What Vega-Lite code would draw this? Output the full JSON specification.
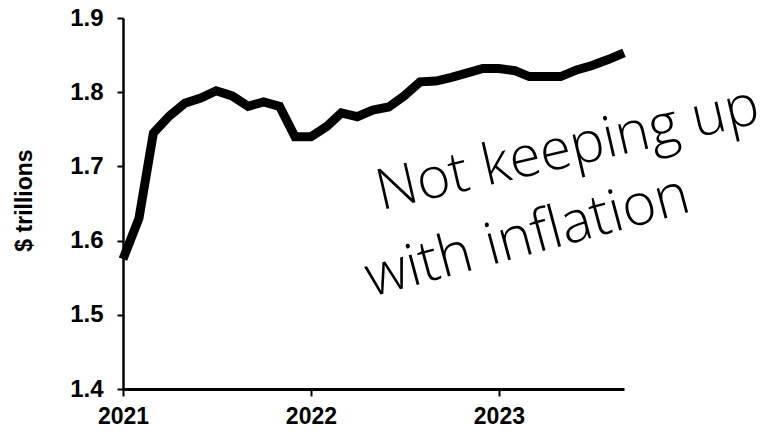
{
  "$schema": "https://vega.github.io/schema/vega-lite/v6.json",
  "width": 501,
  "height": 371,
  "autosize": {"type": "none"},
  "padding": {"left": 123, "top": 18, "right": 152, "bottom": 44},
  "background": "white",
  "config": {
    "view": {"stroke": null},
    "axis": {
      "grid": false,
      "domainColor": "black",
      "tickColor": "black",
      "labelColor": "black",
      "titleColor": "black",
      "labelFont": "Liberation Sans",
      "titleFont": "Liberation Sans",
      "labelFontWeight": "bold",
      "labelFontSize": 24,
      "titleFontSize": 23,
      "titleFontWeight": "bold",
      "tickWidth": 2
    }
  },
  "layer": [
    {
      "data": {
        "values": [
          {"date": "2021-01-01", "value": 1.575},
          {"date": "2021-02-01", "value": 1.630},
          {"date": "2021-03-01", "value": 1.745},
          {"date": "2021-04-01", "value": 1.768},
          {"date": "2021-05-01", "value": 1.785},
          {"date": "2021-06-01", "value": 1.792},
          {"date": "2021-07-01", "value": 1.802},
          {"date": "2021-08-01", "value": 1.795},
          {"date": "2021-09-01", "value": 1.781},
          {"date": "2021-10-01", "value": 1.787},
          {"date": "2021-11-01", "value": 1.781},
          {"date": "2021-12-01", "value": 1.740},
          {"date": "2022-01-01", "value": 1.740},
          {"date": "2022-02-01", "value": 1.754},
          {"date": "2022-03-01", "value": 1.772},
          {"date": "2022-04-01", "value": 1.767},
          {"date": "2022-05-01", "value": 1.776},
          {"date": "2022-06-01", "value": 1.780},
          {"date": "2022-07-01", "value": 1.795},
          {"date": "2022-08-01", "value": 1.814},
          {"date": "2022-09-01", "value": 1.815},
          {"date": "2022-10-01", "value": 1.820},
          {"date": "2022-11-01", "value": 1.826},
          {"date": "2022-12-01", "value": 1.832},
          {"date": "2023-01-01", "value": 1.832},
          {"date": "2023-02-01", "value": 1.829},
          {"date": "2023-03-01", "value": 1.821},
          {"date": "2023-04-01", "value": 1.821},
          {"date": "2023-05-01", "value": 1.821},
          {"date": "2023-06-01", "value": 1.830},
          {"date": "2023-07-01", "value": 1.836},
          {"date": "2023-08-01", "value": 1.844},
          {"date": "2023-09-01", "value": 1.853}
        ]
      },
      "mark": {"type": "line", "color": "black", "strokeWidth": 9, "clip": false},
      "encoding": {
        "x": {
          "field": "date",
          "type": "temporal",
          "scale": {
            "type": "utc",
            "domain": [
              {"year": 2021, "month": 1, "date": 1, "utc": true},
              {"year": 2023, "month": 9, "date": 1, "utc": true}
            ]
          },
          "axis": {
            "title": null,
            "values": [
              {"year": 2021, "month": 1, "date": 1, "utc": true},
              {"year": 2022, "month": 1, "date": 1, "utc": true},
              {"year": 2023, "month": 1, "date": 1, "utc": true}
            ],
            "format": "%Y",
            "formatType": "utc",
            "domainWidth": 3,
            "tickSize": 7,
            "labelFontSize": 23,
            "labelPadding": 9,
            "labelFlush": false,
            "labelOverlap": false
          }
        },
        "y": {
          "field": "value",
          "type": "quantitative",
          "scale": {"domain": [1.4, 1.9], "zero": false, "nice": false},
          "axis": {
            "title": "$ trillions",
            "values": [1.4, 1.5, 1.6, 1.7, 1.8, 1.9],
            "format": ".1f",
            "domainWidth": 2.5,
            "tickSize": 6,
            "labelPadding": 14,
            "labelFlush": false,
            "titleX": -99,
            "titleY": 182,
            "titleAngle": -90,
            "titleAlign": "center",
            "titleBaseline": "middle"
          }
        }
      }
    },
    {
      "data": {
        "values": [
          {"date": "2022-05-17", "value": 1.641, "label": "Not keeping up"}
        ]
      },
      "mark": {
        "type": "text",
        "align": "left",
        "baseline": "alphabetic",
        "angle": -13,
        "font": "Open Sans",
        "fontSize": 57,
        "fontWeight": 300,
        "color": "black"
      },
      "encoding": {
        "x": {"field": "date", "type": "temporal"},
        "y": {"field": "value", "type": "quantitative"},
        "text": {"field": "label"}
      }
    },
    {
      "data": {
        "values": [
          {"date": "2022-04-28", "value": 1.524, "label": "with inflation"}
        ]
      },
      "mark": {
        "type": "text",
        "align": "left",
        "baseline": "alphabetic",
        "angle": -15,
        "font": "Open Sans",
        "fontSize": 58,
        "fontWeight": 300,
        "color": "black"
      },
      "encoding": {
        "x": {"field": "date", "type": "temporal"},
        "y": {"field": "value", "type": "quantitative"},
        "text": {"field": "label"}
      }
    }
  ]
}
